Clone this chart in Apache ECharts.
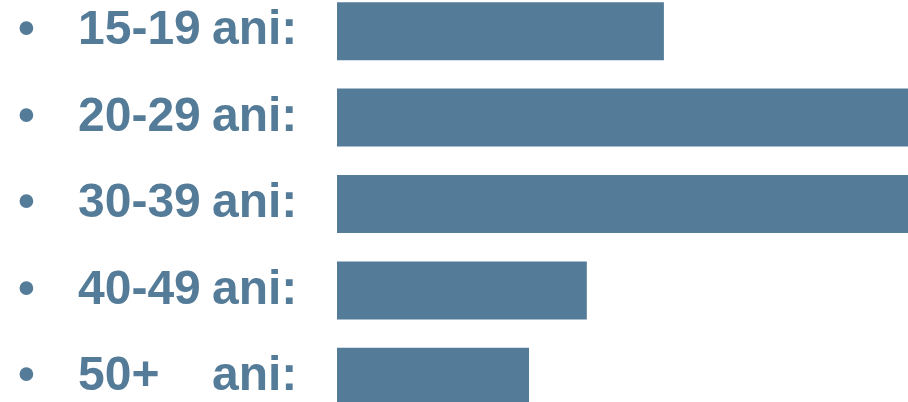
<!DOCTYPE html>
<html>
<head>
<meta charset="utf-8">
<script src="https://cdn.jsdelivr.net/npm/echarts@6/dist/echarts.min.js"></script>
<style>
html,body{margin:0;padding:0;background:#fff;overflow:hidden;width:908px;height:402px;}
#c{position:absolute;left:0;top:-12px;width:908px;height:432px;}
</style>
</head>
<body>
<div id="c"></div>
<script>
const groups = ['15-19', '20-29', '30-39', '40-49', '50+'];
const unit = 'ani:';
const values = [22.9, 40, 40, 17.5, 13.45];
const axisMax = 40;

const color = '#547b98';
const chart = echarts.init(document.getElementById('c'), null, {renderer: 'canvas'});
chart.setOption({
  animation: false,
  backgroundColor: '#ffffff',
  grid: {left: 337, right: 0, top: 0, bottom: 0},
  xAxis: {
    type: 'value', min: 0, max: axisMax,
    show: false
  },
  yAxis: {
    type: 'category', data: groups, inverse: true,
    axisLine: {show: false}, axisTick: {show: false}, splitLine: {show: false},
    axisLabel: {
      align: 'left', margin: 319,
      formatter: v => '{b|•}{n|' + v + '}{t|' + unit + '}',
      rich: {
        b: {width: 60, fontSize: 48, fontWeight: 'bold', fontFamily: 'Liberation Sans', color: color},
        n: {width: 134, fontSize: 48, fontWeight: 'bold', fontFamily: 'Liberation Sans', color: color},
        t: {fontSize: 48, fontWeight: 'bold', fontFamily: 'Liberation Sans', color: color}
      }
    }
  },
  series: [{
    type: 'bar', data: values, barWidth: 58, clip: true,
    itemStyle: {color: color},
    silent: true
  }]
});
</script>
</body>
</html>
